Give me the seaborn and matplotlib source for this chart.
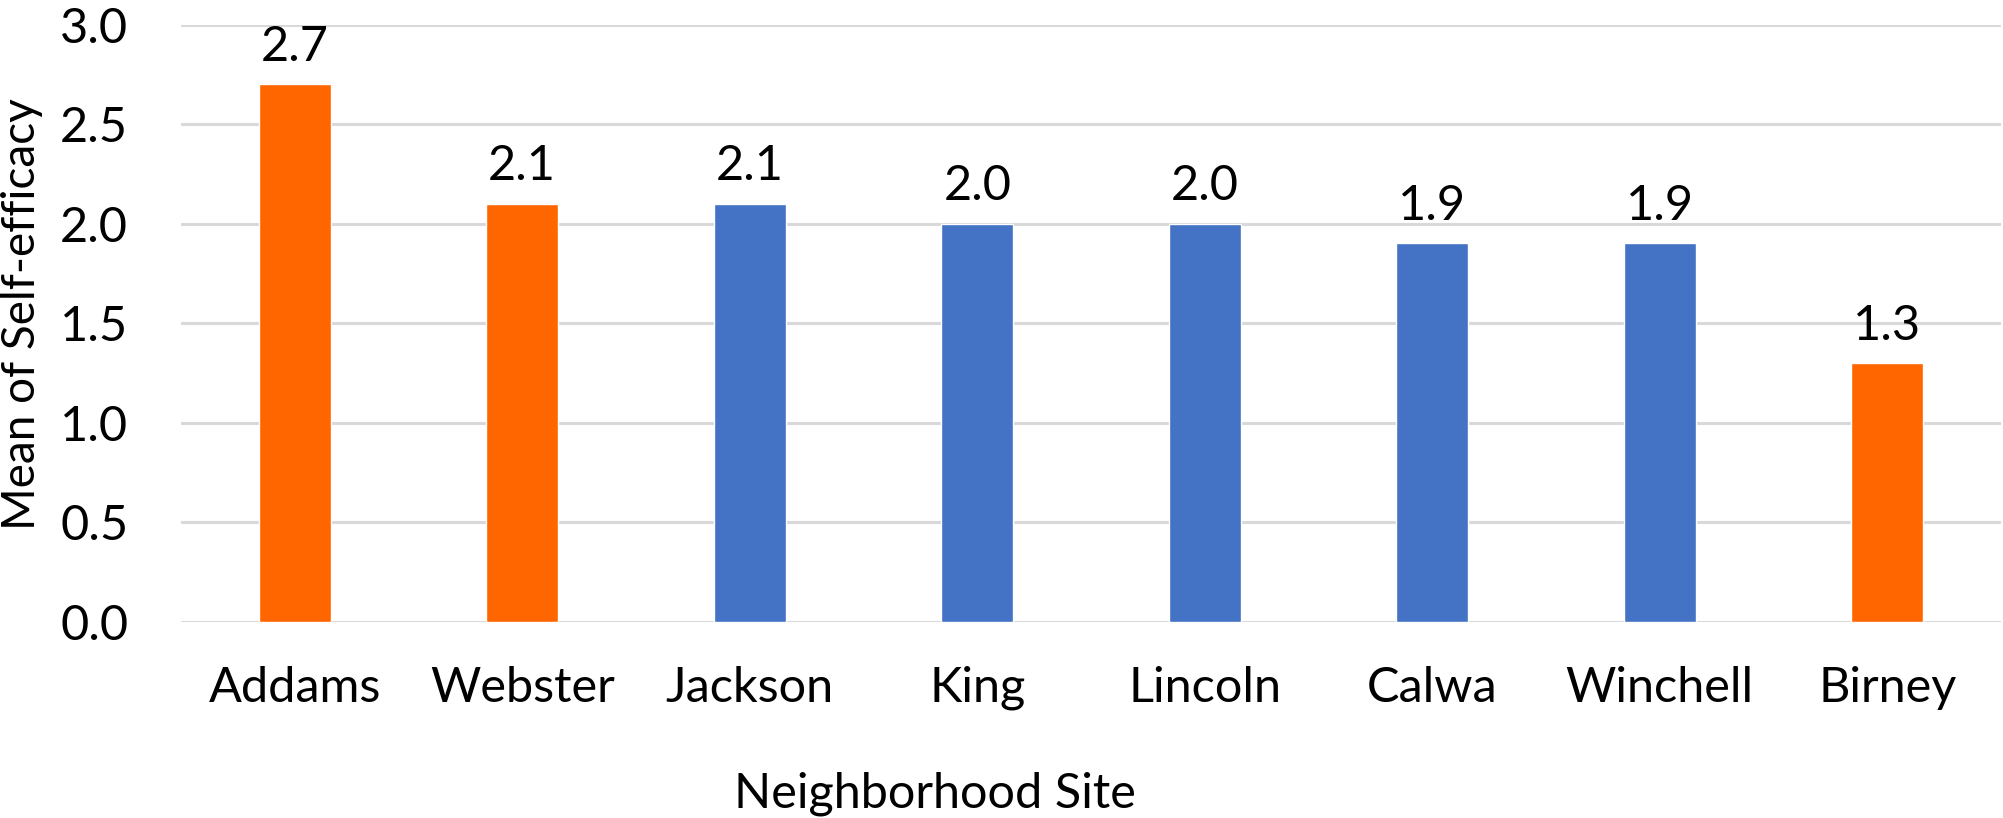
import matplotlib
matplotlib.use("Agg")
import matplotlib.pyplot as plt
import seaborn as sns
import pandas as pd

# Mean self-efficacy score by neighborhood site
sites = ["Addams", "Webster", "Jackson", "King", "Lincoln", "Calwa", "Winchell", "Birney"]
means = [2.7, 2.1, 2.1, 2.0, 2.0, 1.9, 1.9, 1.3]
groups = ["highlight", "highlight", "base", "base", "base", "base", "base", "highlight"]
y_ticks = [0.0, 0.5, 1.0, 1.5, 2.0, 2.5, 3.0]

palette = {"highlight": "#FF6600", "base": "#4472C4"}

sns.set_theme(style="white")
plt.rcParams["font.family"] = ["Lato", "DejaVu Sans"]

df = pd.DataFrame({"site": sites, "mean": means, "group": groups})

fig = plt.figure(figsize=(20.03, 8.18), dpi=100)
ax = fig.add_axes([181 / 2003, 1 - 621.5 / 818, 1820 / 2003, 597 / 818])

sns.barplot(data=df, x="site", y="mean", hue="group", palette=palette,
            order=sites, dodge=False, width=0.317, legend=False,
            saturation=1.0, ax=ax, zorder=3)

ax.set_ylim(0, 3.0)
ax.set_xlim(-0.5, len(sites) - 0.5)
ax.set_yticks(y_ticks)
ax.set_yticklabels([f"{t:.1f}" for t in y_ticks])
ax.yaxis.grid(True, color="#D9D9D9", linewidth=2.2, zorder=0)
ax.xaxis.grid(False)
ax.set_axisbelow(True)
for side in ["top", "right", "left", "bottom"]:
    ax.spines[side].set_visible(False)

ax.tick_params(axis="y", length=0, pad=38, labelsize=35, labelcolor="black")
ax.tick_params(axis="x", length=0, pad=32, labelsize=35, labelcolor="black")

for container in ax.containers:
    ax.bar_label(container, fmt="%.1f", padding=11, fontsize=35, color="black")

ax.set_xlabel("Neighborhood Site", fontsize=35, color="black", va="baseline")
ax.xaxis.set_label_coords((935 - 181) / 1820, -(808 - 621.5) / 597)
ax.set_ylabel("Mean of Self-efficacy", fontsize=33, color="black", va="center")
ax.yaxis.set_label_coords((22 - 181) / 1820, 0.515)

fig.savefig("out.png", dpi=100, facecolor="white")
